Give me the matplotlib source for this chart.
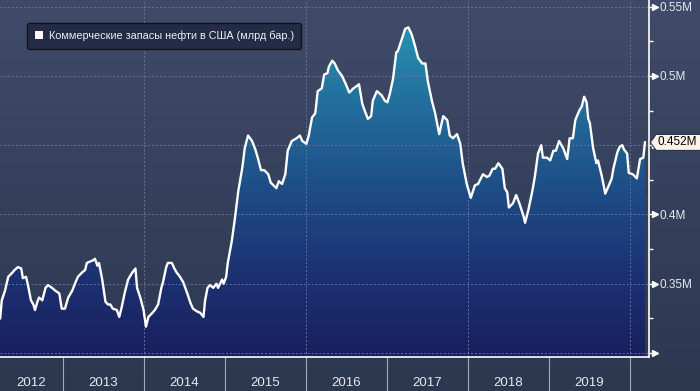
import matplotlib.pyplot as plt
import numpy as np
from matplotlib.colors import LinearSegmentedColormap
from matplotlib.patches import Patch, Polygon

plt.rcParams["font.family"] = ["Liberation Sans", "DejaVu Sans"]

# weekly-ish readings, decimal years / value shown on axis (M)
dates = [
    2012.23, 2012.25, 2012.29, 2012.33, 2012.38, 2012.41, 2012.45, 2012.49, 2012.51, 2012.55,
    2012.58, 2012.61, 2012.64, 2012.66, 2012.69, 2012.71, 2012.75, 2012.79, 2012.82, 2012.87,
    2012.91, 2012.96, 2012.99, 2013.03, 2013.07, 2013.12, 2013.16, 2013.19, 2013.24, 2013.28,
    2013.30, 2013.34, 2013.38, 2013.40, 2013.43, 2013.45, 2013.49, 2013.53, 2013.56, 2013.59,
    2013.62, 2013.67, 2013.70, 2013.73, 2013.77, 2013.81, 2013.86, 2013.90, 2013.92, 2013.96,
    2014.00, 2014.03, 2014.06, 2014.11, 2014.14, 2014.18, 2014.22, 2014.24, 2014.28, 2014.30,
    2014.35, 2014.38, 2014.41, 2014.45, 2014.49, 2014.54, 2014.58, 2014.61, 2014.66, 2014.70,
    2014.74, 2014.76, 2014.79, 2014.82, 2014.86, 2014.90, 2014.92, 2014.97, 2014.99, 2015.02,
    2015.04, 2015.09, 2015.13, 2015.17, 2015.22, 2015.25, 2015.29, 2015.34, 2015.38, 2015.41,
    2015.45, 2015.49, 2015.54, 2015.57, 2015.64, 2015.67, 2015.71, 2015.75, 2015.78, 2015.83,
    2015.89, 2015.93, 2015.96, 2016.01, 2016.04, 2016.08, 2016.12, 2016.15, 2016.20, 2016.23,
    2016.27, 2016.29, 2016.33, 2016.36, 2016.40, 2016.45, 2016.49, 2016.54, 2016.59, 2016.64,
    2016.66, 2016.70, 2016.73, 2016.77, 2016.81, 2016.83, 2016.88, 2016.94, 2016.98, 2017.01,
    2017.04, 2017.08, 2017.12, 2017.14, 2017.19, 2017.23, 2017.27, 2017.31, 2017.35, 2017.39,
    2017.44, 2017.48, 2017.51, 2017.56, 2017.60, 2017.65, 2017.70, 2017.75, 2017.78, 2017.82,
    2017.87, 2017.91, 2017.94, 2017.99, 2018.04, 2018.09, 2018.13, 2018.19, 2018.24, 2018.27,
    2018.31, 2018.34, 2018.38, 2018.43, 2018.46, 2018.49, 2018.51, 2018.56, 2018.60, 2018.64,
    2018.69, 2018.71, 2018.75, 2018.80, 2018.83, 2018.87, 2018.91, 2018.93, 2018.98, 2019.02,
    2019.06, 2019.09, 2019.13, 2019.18, 2019.23, 2019.26, 2019.30, 2019.33, 2019.35, 2019.38,
    2019.41, 2019.44, 2019.47, 2019.49, 2019.51, 2019.55, 2019.59, 2019.61, 2019.66, 2019.70,
    2019.73, 2019.78, 2019.80, 2019.85, 2019.88, 2019.91, 2019.93, 2019.97, 2019.99, 2020.04,
    2020.09, 2020.13, 2020.17, 2020.19,
]
stocks = [
    0.325, 0.338, 0.345, 0.355, 0.358, 0.360, 0.362, 0.361, 0.354, 0.355,
    0.347, 0.338, 0.335, 0.331, 0.337, 0.340, 0.338, 0.347, 0.349, 0.347,
    0.345, 0.343, 0.332, 0.332, 0.340, 0.345, 0.351, 0.355, 0.358, 0.360,
    0.365, 0.366, 0.367, 0.368, 0.363, 0.365, 0.353, 0.337, 0.335, 0.335,
    0.332, 0.331, 0.326, 0.333, 0.344, 0.353, 0.358, 0.361, 0.347, 0.340,
    0.331, 0.319, 0.326, 0.329, 0.331, 0.335, 0.347, 0.351, 0.362, 0.365,
    0.365, 0.361, 0.358, 0.355, 0.351, 0.343, 0.336, 0.332, 0.330, 0.329,
    0.326, 0.338, 0.347, 0.349, 0.347, 0.350, 0.347, 0.353, 0.350, 0.355,
    0.365, 0.381, 0.398, 0.417, 0.434, 0.448, 0.457, 0.453, 0.447, 0.441,
    0.432, 0.432, 0.429, 0.423, 0.419, 0.424, 0.422, 0.429, 0.446, 0.453,
    0.455, 0.457, 0.453, 0.451, 0.457, 0.470, 0.473, 0.489, 0.491, 0.501,
    0.502, 0.507, 0.511, 0.509, 0.504, 0.500, 0.495, 0.488, 0.491, 0.493,
    0.494, 0.480, 0.475, 0.469, 0.471, 0.482, 0.489, 0.486, 0.482, 0.481,
    0.487, 0.498, 0.517, 0.518, 0.527, 0.534, 0.535, 0.530, 0.522, 0.513,
    0.509, 0.509, 0.496, 0.482, 0.473, 0.458, 0.471, 0.468, 0.457, 0.455,
    0.458, 0.451, 0.437, 0.422, 0.412, 0.421, 0.422, 0.429, 0.427, 0.428,
    0.433, 0.433, 0.437, 0.433, 0.419, 0.416, 0.405, 0.408, 0.414, 0.408,
    0.399, 0.394, 0.403, 0.417, 0.427, 0.444, 0.450, 0.441, 0.441, 0.439,
    0.446, 0.446, 0.453, 0.448, 0.440, 0.455, 0.455, 0.468, 0.471, 0.475,
    0.478, 0.485, 0.481, 0.469, 0.466, 0.448, 0.437, 0.439, 0.427, 0.415,
    0.419, 0.426, 0.433, 0.445, 0.449, 0.450, 0.447, 0.444, 0.430, 0.429,
    0.426, 0.440, 0.441, 0.452,
]

years = [2012, 2013, 2014, 2015, 2016, 2017, 2018, 2019]
grid_years = [2014, 2016, 2018, 2020]
y_ticks = [0.30, 0.35, 0.40, 0.45, 0.50, 0.55]
y_labels = ["", "0.35M", "0.4M", "", "0.5M", "0.55M"]  # 0.45 sits under the last-value tag
legend_label = "Коммерческие запасы нефти в США (млрд бар.)"

x0, x1 = 2012.228, 2020.24
y0, y1 = 0.2971, 0.5548

fig = plt.figure(figsize=(7, 3.91), dpi=100)

# slate background, a bit lighter at the top
bg = fig.add_axes([0, 0, 1, 1], zorder=-10)
bg_cmap = LinearSegmentedColormap.from_list("bg", ["#2c3750", "#3f4b68"])
bg.imshow(np.linspace(0, 1, 256).reshape(-1, 1), cmap=bg_cmap, aspect="auto",
          origin="lower", extent=[0, 1, 0, 1])
bg.axis("off")

ax = fig.add_axes([0, 34 / 391, 649 / 700, 357 / 391])
ax.set_facecolor("none")

# gradient fill under the line
fill = ax.fill_between(dates, stocks, y0, facecolor="none", edgecolor="none")
area_cmap = LinearSegmentedColormap.from_list(
    "area", [(0, "#1a1f5e"), (0.25, "#1c3374"), (0.5, "#1f5189"),
             (0.75, "#2374a0"), (1, "#2a9fb8")])
im = ax.imshow(np.linspace(0, 1, 256).reshape(-1, 1), extent=[x0, x1, y0, y1],
               origin="lower", aspect="auto", cmap=area_cmap, zorder=1)
im.set_clip_path(fill.get_paths()[0], transform=ax.transData)

ax.plot(dates, stocks, color="white", lw=1.7, zorder=4, solid_joinstyle="round")

# dashed grid
for v in y_ticks:
    ax.axhline(v, color="#62749a", lw=0.7, ls=(0, (2, 2)), zorder=2)
for yr in grid_years:
    ax.axvline(yr, color="#62749a", lw=0.7, ls=(0, (2, 2)), zorder=2)

ax.set_xlim(x0, x1)
ax.set_ylim(y0, y1)

for side in ["left", "top"]:
    ax.spines[side].set_visible(False)
for side in ["right", "bottom"]:
    ax.spines[side].set_color("white")
    ax.spines[side].set_linewidth(1.2)
    ax.spines[side].set_zorder(5)

# year separators below the axis
ax.set_xticks(years[1:] + [years[-1] + 1])
ax.tick_params(axis="x", length=24.5, width=0.8, color="#a3abbb", labelbottom=False)
for yr in years:
    left = max(yr, x0)
    ax.text((left + yr + 1) / 2, -0.073, str(yr), transform=ax.get_xaxis_transform(),
            ha="center", va="center", color="#e6e9ef", fontsize=9.5)

# right value axis
ax.yaxis.tick_right()
ax.set_yticks(y_ticks)
ax.set_yticklabels(y_labels)
ax.set_yticks([v + 0.025 for v in y_ticks[:-1]], minor=True)
ax.tick_params(axis="y", which="major", length=3, width=1, color="white", pad=4.5,
               labelsize=8.5, labelcolor="#e6e9ef")
ax.tick_params(axis="y", which="minor", length=3, width=1, color="white")
ax.plot([1.009] * len(y_ticks), y_ticks, marker=">", ls="none", ms=4.5, color="white",
        transform=ax.get_yaxis_transform(), clip_on=False, zorder=6)

# last value tag
last = stocks[-1]
h = 8 / 357 * (y1 - y0)
tag = Polygon([(1.002, last), (1.011, last + h), (1.08, last + h),
               (1.08, last - h), (1.011, last - h)], closed=True,
              facecolor="#fdf3ea", edgecolor="#2b3550", lw=0.8,
              transform=ax.get_yaxis_transform(), clip_on=False, zorder=7)
ax.add_patch(tag)
ax.text(1.0125, last, f"{last:g}M", transform=ax.get_yaxis_transform(),
        ha="left", va="center", color="black", fontsize=8.5, zorder=8)

leg = ax.legend([Patch(facecolor="white", edgecolor="none")], [legend_label],
                loc="upper left", bbox_to_anchor=(27 / 649, 1 - 23 / 357),
                borderaxespad=0, frameon=True, fancybox=True, facecolor="#232b47",
                edgecolor="#10131d", framealpha=1, fontsize=7.8, labelcolor="#f0f0f0",
                handlelength=0.8, handleheight=0.8, handletextpad=0.5, borderpad=0.7)
leg.get_frame().set_linewidth(1.0)
leg.set_zorder(8)

fig.savefig("out.png", dpi=100)
